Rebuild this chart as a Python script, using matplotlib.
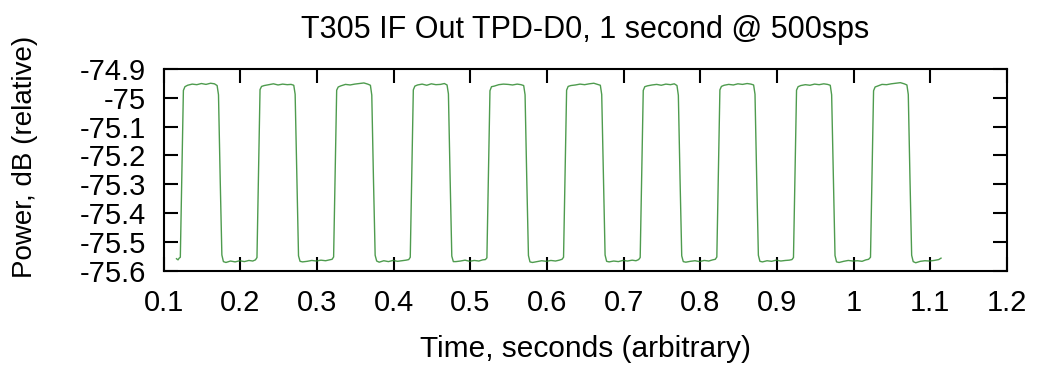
# plot.py - T305 IF Out TPD-D0 detector trace, 1 second @ 500sps
import matplotlib
matplotlib.use("Agg")
import matplotlib.pyplot as plt

plt.rcParams['font.family'] = ['Liberation Sans', 'DejaVu Sans']
plt.rcParams['font.size'] = 21

# time (s) and power (dB), one line per cycle
time_s = [
    0.1165, 0.1185, 0.1200,
    0.1215, 0.1235, 0.1255, 0.1275, 0.131, 0.137, 0.143, 0.149, 0.155, 0.161, 0.166, 0.1695, 0.1713, 0.1735, 0.1757, 0.1777, 0.181, 0.187, 0.193, 0.199, 0.205, 0.211, 0.216, 0.2195,
    0.2215, 0.2235, 0.2255, 0.2275, 0.231, 0.237, 0.243, 0.249, 0.255, 0.261, 0.266, 0.2695, 0.2713, 0.2735, 0.2757, 0.2777, 0.281, 0.287, 0.293, 0.299, 0.305, 0.311, 0.316, 0.3195,
    0.3215, 0.3235, 0.3255, 0.3275, 0.331, 0.337, 0.343, 0.349, 0.355, 0.361, 0.366, 0.3695, 0.3713, 0.3735, 0.3757, 0.3777, 0.381, 0.387, 0.393, 0.399, 0.405, 0.411, 0.416, 0.4195,
    0.4215, 0.4235, 0.4255, 0.4275, 0.431, 0.437, 0.443, 0.449, 0.455, 0.461, 0.466, 0.4695, 0.4713, 0.4735, 0.4757, 0.4777, 0.481, 0.487, 0.493, 0.499, 0.505, 0.511, 0.516, 0.5195,
    0.5215, 0.5235, 0.5255, 0.5275, 0.531, 0.537, 0.543, 0.549, 0.555, 0.561, 0.566, 0.5695, 0.5713, 0.5735, 0.5757, 0.5777, 0.581, 0.587, 0.593, 0.599, 0.605, 0.611, 0.616, 0.6195,
    0.6215, 0.6235, 0.6255, 0.6275, 0.631, 0.637, 0.643, 0.649, 0.655, 0.661, 0.666, 0.6695, 0.6713, 0.6735, 0.6757, 0.6777, 0.681, 0.687, 0.693, 0.699, 0.705, 0.711, 0.716, 0.7195,
    0.7215, 0.7235, 0.7255, 0.7275, 0.731, 0.737, 0.743, 0.749, 0.755, 0.761, 0.766, 0.7695, 0.7713, 0.7735, 0.7757, 0.7777, 0.781, 0.787, 0.793, 0.799, 0.805, 0.811, 0.816, 0.8195,
    0.8215, 0.8235, 0.8255, 0.8275, 0.831, 0.837, 0.843, 0.849, 0.855, 0.861, 0.866, 0.8695, 0.8713, 0.8735, 0.8757, 0.8777, 0.881, 0.887, 0.893, 0.899, 0.905, 0.911, 0.916, 0.9195,
    0.9215, 0.9235, 0.9255, 0.9275, 0.931, 0.937, 0.943, 0.949, 0.955, 0.961, 0.966, 0.9695, 0.9713, 0.9735, 0.9757, 0.9777, 0.981, 0.987, 0.993, 0.999, 1.005, 1.011, 1.016, 1.0195,
    1.0220, 1.0240, 1.0260, 1.0280, 1.031, 1.037, 1.043, 1.049, 1.055, 1.061, 1.066, 1.0695, 1.0713, 1.0735, 1.0757, 1.0777, 1.081, 1.087, 1.093, 1.099, 1.105, 1.111, 1.114,
]
power_db = [
    -75.558, -75.562, -75.556,
    -75.553, -75.270, -74.975, -74.962, -74.957, -74.953, -74.955, -74.951, -74.954, -74.950, -74.952, -74.958, -74.990, -75.280, -75.545, -75.568, -75.571, -75.566, -75.569, -75.565, -75.568, -75.564, -75.566, -75.562,
    -75.554, -75.265, -74.972, -74.961, -74.958, -74.955, -74.952, -74.956, -74.953, -74.955, -74.954, -74.957, -74.988, -75.275, -75.548, -75.567, -75.569, -75.567, -75.564, -75.566, -75.563, -75.565, -75.562, -75.560,
    -75.552, -75.268, -74.974, -74.963, -74.959, -74.954, -74.956, -74.953, -74.951, -74.949, -74.953, -74.957, -74.991, -75.283, -75.546, -75.566, -75.570, -75.565, -75.568, -75.564, -75.567, -75.565, -75.563, -75.561,
    -75.553, -75.262, -74.973, -74.960, -74.956, -74.953, -74.957, -74.952, -74.955, -74.954, -74.951, -74.956, -74.987, -75.278, -75.549, -75.568, -75.568, -75.566, -75.563, -75.567, -75.564, -75.566, -75.562, -75.561,
    -75.555, -75.271, -74.976, -74.962, -74.960, -74.955, -74.953, -74.954, -74.956, -74.953, -74.955, -74.958, -74.990, -75.281, -75.547, -75.569, -75.571, -75.568, -75.565, -75.567, -75.564, -75.566, -75.563, -75.560,
    -75.553, -75.266, -74.974, -74.961, -74.958, -74.956, -74.953, -74.955, -74.952, -74.950, -74.954, -74.957, -74.989, -75.276, -75.545, -75.567, -75.569, -75.566, -75.568, -75.564, -75.566, -75.563, -75.565, -75.561,
    -75.554, -75.269, -74.975, -74.962, -74.959, -74.956, -74.954, -74.957, -74.953, -74.955, -74.952, -74.958, -74.992, -75.282, -75.548, -75.568, -75.570, -75.567, -75.565, -75.568, -75.564, -75.566, -75.562, -75.560,
    -75.552, -75.264, -74.973, -74.961, -74.957, -74.954, -74.956, -74.952, -74.954, -74.951, -74.953, -74.956, -74.988, -75.279, -75.546, -75.567, -75.569, -75.565, -75.567, -75.563, -75.566, -75.564, -75.563, -75.561,
    -75.554, -75.270, -74.974, -74.962, -74.958, -74.955, -74.957, -74.953, -74.955, -74.952, -74.954, -74.957, -74.990, -75.277, -75.547, -75.569, -75.571, -75.567, -75.564, -75.566, -75.565, -75.567, -75.562, -75.560,
    -75.553, -75.267, -74.976, -74.963, -74.960, -74.954, -74.955, -74.952, -74.950, -74.948, -74.952, -74.956, -74.989, -75.280, -75.546, -75.568, -75.572, -75.567, -75.565, -75.566, -75.564, -75.561, -75.556,
]

x_ticks = [0.1, 0.2, 0.3, 0.4, 0.5, 0.6, 0.7, 0.8, 0.9, 1.0, 1.1, 1.2]
x_labels = ['0.1', '0.2', '0.3', '0.4', '0.5', '0.6', '0.7', '0.8', '0.9', '1', '1.1', '1.2']
y_ticks = [-75.6, -75.5, -75.4, -75.3, -75.2, -75.1, -75.0, -74.9]
y_labels = ['-75.6', '-75.5', '-75.4', '-75.3', '-75.2', '-75.1', '-75', '-74.9']

plt.figure(figsize=(10.37, 3.66), dpi=100)
plt.subplots_adjust(left=0.158, right=0.971, bottom=0.26, top=0.812)

plt.plot(time_s, power_db, color='#2f8a2f', linewidth=1.0, alpha=0.85)

plt.title("T305 IF Out TPD-D0, 1 second @ 500sps", fontsize=22, pad=22)
plt.xlabel("Time, seconds (arbitrary)", fontsize=21.5, labelpad=13)
plt.ylabel("Power, dB (relative)", fontsize=20)
plt.xlim(0.1, 1.2)
plt.ylim(-75.6, -74.9)
plt.xticks(x_ticks, x_labels)
plt.yticks(y_ticks, y_labels)

# gnuplot look: inward ticks on all four sides, heavy border
ax = plt.gca()
ax.yaxis.set_label_coords(-0.1495, 0.564)
ax.tick_params(direction='in', length=10, width=1.5, top=True, right=True)
ax.tick_params(axis='x', pad=13)
ax.tick_params(axis='y', pad=13)
for s in ax.spines.values():
    s.set_linewidth(1.5)

plt.savefig('out.png', dpi=100)
